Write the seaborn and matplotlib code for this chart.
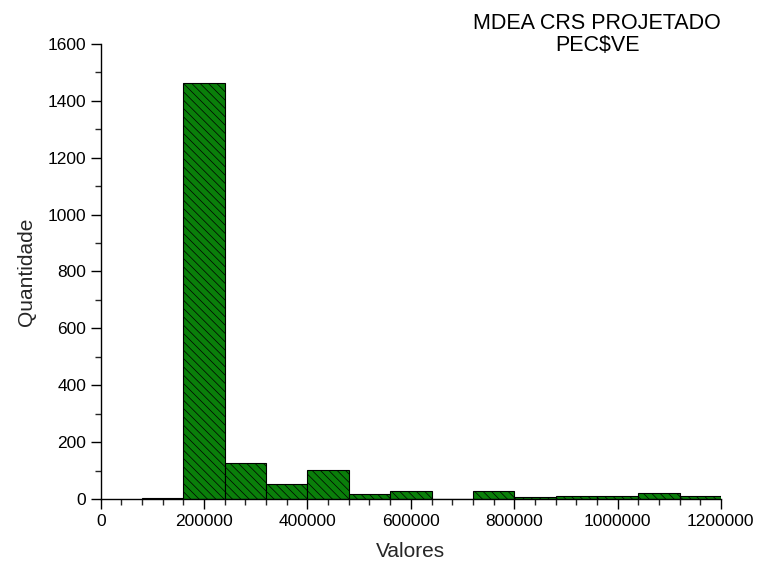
import numpy as np
import pandas as pd
import matplotlib
matplotlib.use('Agg')
import matplotlib.pyplot as plt
import seaborn as sns
from matplotlib.ticker import MultipleLocator, FormatStrFormatter

# bin edges and counts
bin_edges = [80000, 160000, 240000, 320000, 400000, 480000, 560000, 640000,
             720000, 800000, 880000, 960000, 1040000, 1120000, 1200000]
counts = [5, 1462, 125, 52, 103, 18, 29, 0, 27, 8, 12, 12, 20, 12]
bin_centers = [(a + b) / 2 for a, b in zip(bin_edges[:-1], bin_edges[1:])]

data = pd.DataFrame({'valor': bin_centers, 'qtd': counts})

sns.set_style('ticks')
plt.rcParams['font.family'] = ['Liberation Sans', 'DejaVu Sans']
plt.rcParams['hatch.color'] = '#0b5e0b'
plt.rcParams['hatch.linewidth'] = 0.5

fig = plt.figure(figsize=(7.58, 5.70), dpi=100)
ax = fig.add_axes([0.133, 0.1246, 0.818, 0.7984])

sns.histplot(data=data, x='valor', weights='qtd', bins=bin_edges,
             color='#0a7f0a', alpha=1, edgecolor='black', linewidth=0.8, ax=ax)
for p in ax.patches:
    p.set_hatch('\\\\\\\\')

ax.set_xlim(0, 1200000)
ax.set_ylim(0, 1600)
ax.xaxis.set_major_locator(MultipleLocator(200000))
ax.xaxis.set_minor_locator(MultipleLocator(40000))
ax.xaxis.set_major_formatter(FormatStrFormatter('%d'))
ax.yaxis.set_major_locator(MultipleLocator(200))
ax.yaxis.set_minor_locator(MultipleLocator(100))
ax.tick_params(which='major', length=7, width=1, labelsize=12.5, colors='black')
ax.tick_params(which='minor', length=4, width=1)
sns.despine(ax=ax)
for s in ['left', 'bottom']:
    ax.spines[s].set_linewidth(1)
    ax.spines[s].set_color('black')

ax.set_xlabel('Valores', fontsize=15, labelpad=10)
ax.set_ylabel('Quantidade', fontsize=15, labelpad=8)

fig.text(0.788, 0.978, 'MDEA CRS PROJETADO\nPEC\\$VE', ha='center', va='top',
         fontsize=15.5, linespacing=1.1, color='black')

fig.savefig('out.png', dpi=100)
